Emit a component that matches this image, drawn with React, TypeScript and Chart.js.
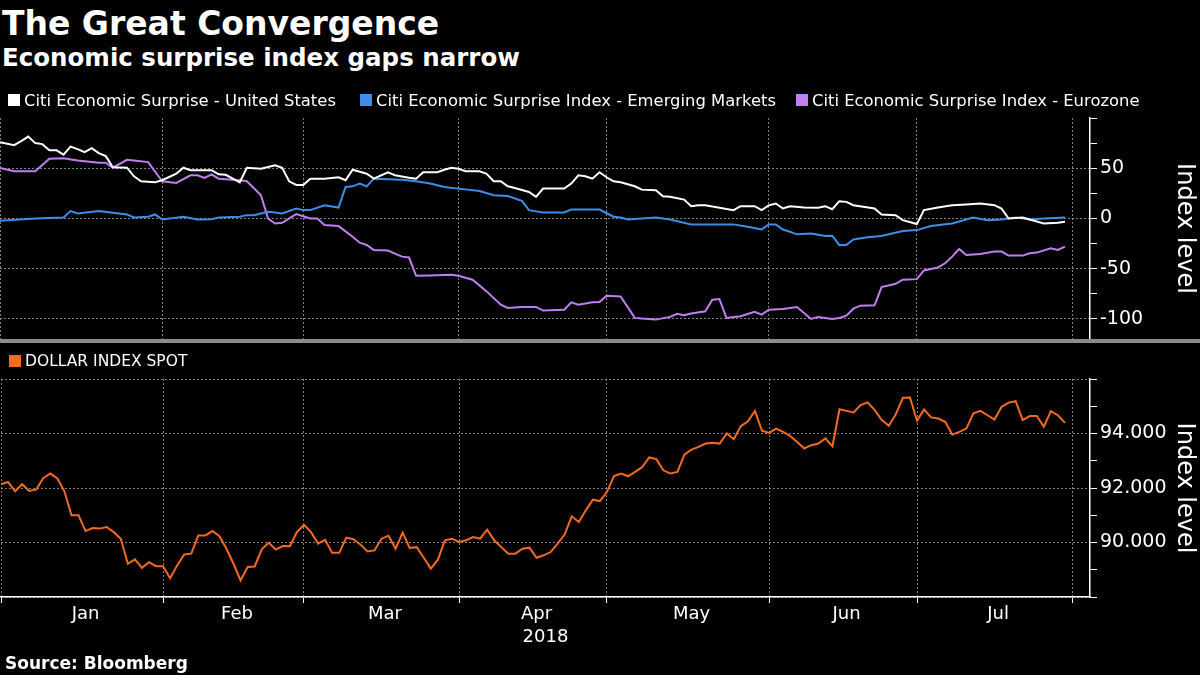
import React, { useEffect, useRef } from 'react';
import { Chart, registerables } from 'chart.js';

Chart.register(...registerables);

const FONT = "'DejaVu Sans', sans-serif";
const GRID = 'rgba(150,150,150,0.85)';

// x positions are business-day indexes counted from 1 Jan 2018
const monthStarts = [0, 23, 43, 65, 86, 109, 130, 152];
const monthNames = ['Jan', 'Feb', 'Mar', 'Apr', 'May', 'Jun', 'Jul'];
const monthMids = [12, 33.5, 54.5, 76, 98, 120, 141.5];
const xMin = 0;
const xMax = 154.55;
const yearLabel = '2018';

// Citi Economic Surprise - United States
const usDays = [0, 2, 3, 4, 5, 6, 7, 8, 9, 10, 11, 12, 13, 14, 15, 16, 18, 19, 20, 22, 23, 25, 26, 27, 29, 30, 31, 32, 34, 35, 37, 39, 40, 41, 42, 43, 44, 46, 48, 49, 50, 52, 53, 55, 56, 58, 59, 60, 62, 63, 64, 65, 66, 68, 69, 70, 71, 72, 73, 75, 76, 77, 80, 81, 82, 83, 84, 85, 86, 87, 88, 90, 91, 93, 94, 95, 97, 98, 99, 100, 104, 105, 107, 108, 109, 110, 111, 112, 114, 116, 117, 118, 119, 120, 121, 124, 125, 127, 128, 130, 131, 133, 135, 137, 139, 141, 142, 143, 145, 146, 148, 150, 151];
const usValues = [76, 73, 77, 81.5, 75, 74, 68, 68, 63.5, 71.5, 69, 66, 70, 65, 62, 51, 50.5, 42, 37, 36, 38, 44.5, 50.5, 48, 48, 48, 44, 43.5, 36, 50.5, 49.5, 53, 50.5, 37, 33.3, 33.3, 39.6, 39.6, 41, 38, 48.5, 44.5, 39.6, 46, 43, 40.6, 39.6, 46, 46, 48.5, 50.5, 49.5, 47, 47, 44.5, 37, 37, 32, 30.4, 26.4, 21.5, 29.7, 29.7, 34.7, 43, 42, 39.6, 46, 41, 37, 36, 32, 28.7, 28, 22, 21.5, 18.8, 12.2, 13.2, 13.2, 8.3, 12.2, 12.2, 8.3, 13, 14.9, 9.9, 12.2, 10.9, 10.6, 12.2, 9.2, 17.2, 16.5, 13.2, 9.9, 4, 3.3, -1.7, -5.6, 8.3, 10.9, 13.2, 13.9, 14.9, 13.2, 9.9, 0, 1, -1, -5, -4.3, -3.3];

// Citi Economic Surprise Index - Emerging Markets
const emDays = [0, 5, 9, 10, 11, 14, 18, 19, 21, 22, 23, 26, 28, 30, 31, 34, 35, 36, 38, 39, 40, 42, 43, 44, 46, 48, 49, 50, 51, 52, 53, 57, 59, 61, 63, 65, 68, 70, 72, 74, 75, 77, 80, 81, 85, 87, 88, 89, 93, 95, 98, 104, 106, 108, 109, 110, 111, 112, 113, 115, 117, 118, 119, 120, 121, 123, 125, 128, 130, 132, 135, 138, 140, 142, 144, 146, 148, 151];
const emValues = [-2.3, 0, 1, 7.3, 5, 7.3, 4, 1, 1.7, 4, -1, 1.7, -1, -0.7, 1, 1.7, 3.3, 3.3, 6.6, 6, 5, 9.9, 8.3, 8.3, 13.2, 10.9, 31.4, 32, 34.7, 32, 39.6, 38.6, 37, 34.7, 31.4, 29.7, 27.4, 23.1, 22.4, 17.5, 8.3, 6, 6, 8.9, 8.9, 1.7, 1, -1, 1, -1, -5.9, -5.9, -8.3, -10.9, -5.9, -5.9, -11, -13.2, -15.8, -14.9, -17.5, -17.2, -26.4, -26.4, -21, -18.8, -17.5, -12.5, -11.6, -7.6, -5, 1, -1.7, -1, 1, -1, 0, 1];

// Citi Economic Surprise Index - Eurozone
const ezDays = [0, 2, 5, 7, 9, 11, 14, 15, 16, 18, 19, 21, 23, 25, 27, 28, 29, 30, 31, 34, 35, 37, 38, 39, 40, 42, 44, 45, 46, 48, 50, 51, 52, 53, 55, 57, 58, 59, 61, 64, 65, 67, 69, 71, 72, 74, 76, 77, 80, 81, 82, 84, 85, 86, 88, 90, 91, 93, 95, 96, 97, 98, 100, 101, 102, 103, 105, 107, 108, 109, 111, 113, 115, 116, 118, 119, 120, 121, 122, 124, 125, 127, 128, 130, 131, 133, 134, 135, 136, 137, 139, 141, 142, 143, 145, 146, 147, 149, 150, 151];
const ezValues = [50.2, 46.9, 46.9, 59.4, 60, 57.8, 55.4, 55.4, 50.5, 58.4, 57.8, 56.1, 37, 35.3, 42.9, 42.9, 40.3, 43.9, 39.6, 38, 37, 23.1, 0, -5, -4.3, 4.3, 0, 0, -6.6, -7.6, -18.2, -24.1, -26.4, -31.4, -32, -38, -38.9, -57.1, -56.8, -56.1, -57.1, -61, -72.6, -85.8, -89.1, -88.1, -88.1, -91.7, -90.8, -83.5, -85.8, -83.5, -83.2, -76.9, -77.6, -99, -99.7, -100.7, -98, -95, -96.4, -94.7, -92.4, -80.9, -80.2, -99, -97.4, -93, -95.7, -90.8, -90.1, -88.1, -100, -98, -100, -99, -96.7, -89.8, -86.8, -86.5, -68.3, -65, -61, -60.4, -51.8, -48.8, -44.6, -38, -30.4, -36.3, -35.3, -33, -33, -37, -37, -34.7, -34, -29.7, -31.4, -28.1];

// DOLLAR INDEX SPOT, one value per business day (index 0..151)
const dollarValues = [
  92.14, 92.22, 91.88, 92.14, 91.89, 91.94, 92.37, 92.53, 92.35, 91.88,
  91.0, 91.0, 90.42, 90.53, 90.51, 90.57, 90.38, 90.14, 89.22, 89.38,
  89.07, 89.28, 89.13, 89.13, 88.69, 89.16, 89.56, 89.59, 90.26, 90.26,
  90.42, 90.23, 89.77, 89.22, 88.61, 89.1, 89.12, 89.75, 89.99, 89.74,
  89.87, 89.86, 90.38, 90.65, 90.38, 89.96, 90.1, 89.62, 89.62, 90.18,
  90.12, 89.93, 89.67, 89.71, 90.14, 90.25, 89.77, 90.36, 89.8, 89.83,
  89.44, 89.04, 89.37, 90.08, 90.14, 90.02, 90.08, 90.2, 90.14, 90.47,
  90.08, 89.83, 89.59, 89.59, 89.77, 89.81, 89.44, 89.53, 89.65, 89.96,
  90.3, 90.96, 90.75, 91.18, 91.57, 91.52, 91.86, 92.44, 92.53, 92.43,
  92.59, 92.77, 93.12, 93.06, 92.65, 92.53, 92.59, 93.23, 93.41, 93.51,
  93.63, 93.66, 93.63, 94.0, 93.79, 94.27, 94.45, 94.83, 94.1, 94.02,
  94.18, 94.06, 93.91, 93.69, 93.45, 93.57, 93.63, 93.82, 93.53, 94.89,
  94.83, 94.77, 95.04, 95.14, 94.86, 94.49, 94.28, 94.71, 95.31, 95.32,
  94.47, 94.88, 94.59, 94.55, 94.43, 93.96, 94.06, 94.18, 94.74, 94.83,
  94.67, 94.51, 94.98, 95.13, 95.19, 94.49, 94.64, 94.64, 94.25, 94.82,
  94.67, 94.39,
];

const topYTicks = [-100, -75, -50, -25, 0, 25, 50, 75, 100];
const topYLabelled = [-100, -50, 0, 50];
const topYMin = -120;
const topYMax = 100;
const botYTicks = [88, 89, 90, 91, 92, 93, 94, 95, 96];
const botYGrid = [88, 90, 92, 94, 96];
const botYLabelled = [90, 92, 94];
const botYMin = 88;
const botYMax = 96;

const seriesNames = [
  'Citi Economic Surprise - United States',
  'Citi Economic Surprise Index - Emerging Markets',
  'Citi Economic Surprise Index - Eurozone',
];
const dollarName = 'DOLLAR INDEX SPOT';
const colors = { us: '#ffffff', em: '#3b8fe8', ez: '#c07ff0', usd: '#f46a1f' };

const pairs = (xs: number[], ys: number[]) => xs.map((x, i) => ({ x, y: ys[i] }));
const xTickValues = [...monthStarts, ...monthMids].sort((a, b) => a - b);

function xScale(showLabels: boolean): any {
  return {
    type: 'linear',
    min: xMin,
    max: xMax,
    afterBuildTicks: (s: any) => {
      s.ticks = xTickValues.map((v) => ({ value: v }));
    },
    afterFit: (s: any) => {
      s.height = showLabels ? 78 : 0;
    },
    grid: {
      color: (c: any) => (c.tick && monthStarts.includes(c.tick.value) ? GRID : 'transparent'),
      tickColor: (c: any) => (c.tick && monthStarts.includes(c.tick.value) ? '#ffffff' : 'transparent'),
      lineWidth: 1,
      drawTicks: showLabels,
      tickLength: 6,
    },
    border: { display: showLabels, color: '#ffffff', width: 1.5, dash: [2, 2] },
    ticks: {
      display: showLabels,
      autoSkip: false,
      maxRotation: 0,
      color: '#ffffff',
      padding: 1,
      font: { family: FONT, size: 18 },
      callback: (v: number) => {
        const i = monthMids.indexOf(v);
        return i >= 0 ? monthNames[i] : '';
      },
    },
    title: {
      display: showLabels,
      text: yearLabel,
      color: '#ffffff',
      font: { family: FONT, size: 18 },
      padding: { top: 0, bottom: 27 },
    },
  };
}

function yScale(min: number, max: number, ticks: number[], grid: number[], labelled: number[], fmt: (v: number) => string): any {
  return {
    position: 'right',
    min,
    max,
    afterBuildTicks: (s: any) => {
      s.ticks = ticks.map((v) => ({ value: v }));
    },
    afterFit: (s: any) => {
      s.width = 110;
    },
    grid: {
      color: (c: any) => (c.tick && grid.includes(c.tick.value) && c.tick.value !== 100 ? GRID : 'transparent'),
      tickColor: '#ffffff',
      tickLength: 7,
      lineWidth: 1,
    },
    border: { display: true, color: '#ffffff', width: 1.5, dash: [2, 2] },
    ticks: {
      autoSkip: false,
      color: '#ffffff',
      padding: 3,
      font: { family: FONT, size: 19 },
      callback: (v: number) => (labelled.includes(v) ? fmt(v) : ''),
    },
    title: {
      display: true,
      text: 'Index level',
      color: '#ffffff',
      font: { family: FONT, size: 24 },
      padding: { top: 1, bottom: 0 },
    },
  };
}

const lineDs = (label: string, data: any[], color: string) => ({
  label,
  data,
  borderColor: color,
  backgroundColor: color,
  borderWidth: 2,
  pointRadius: 0,
  tension: 0,
  fill: false,
});

const baseOptions = (padTop: number, padBottom: number, scales: any): any => ({
  responsive: false,
  animation: false,
  devicePixelRatio: 1,
  parsing: true,
  layout: { padding: { top: padTop, bottom: padBottom, left: 0, right: 0 } },
  plugins: { legend: { display: false }, tooltip: { enabled: false }, title: { display: false } },
  scales,
});

export default function App() {
  const topRef = useRef<HTMLCanvasElement>(null);
  const botRef = useRef<HTMLCanvasElement>(null);

  useEffect(() => {
    const top = new Chart(topRef.current as HTMLCanvasElement, {
      type: 'line',
      data: {
        datasets: [
          lineDs(seriesNames[0], pairs(usDays, usValues), colors.us),
          lineDs(seriesNames[1], pairs(emDays, emValues), colors.em),
          lineDs(seriesNames[2], pairs(ezDays, ezValues), colors.ez),
        ],
      },
      options: baseOptions(28, 21, {
        x: xScale(false),
        y: yScale(topYMin, topYMax, topYTicks, topYLabelled, topYLabelled, (v) => String(v)),
      }),
    } as any);
    const bot = new Chart(botRef.current as HTMLCanvasElement, {
      type: 'line',
      data: {
        datasets: [lineDs(dollarName, dollarValues.map((y, x) => ({ x, y })), colors.usd)],
      },
      options: baseOptions(34, 0, {
        x: xScale(true),
        y: yScale(botYMin, botYMax, botYTicks, botYGrid, botYLabelled, (v) => v.toFixed(3)),
      }),
    } as any);
    return () => {
      top.destroy();
      bot.destroy();
    };
  }, []);

  const abs = (left: number, top: number, extra: any = {}): any => ({
    position: 'absolute',
    left,
    top,
    whiteSpace: 'nowrap',
    lineHeight: 1,
    ...extra,
  });
  const square = (left: number, top: number, color: string) => (
    <div style={abs(left, top, { width: 12, height: 12, background: color })} />
  );
  const legendX = [8, 360, 796];
  const legendColors = [colors.us, colors.em, colors.ez];

  return (
    <div
      style={{
        position: 'absolute',
        left: 0,
        top: 0,
        width: 1200,
        height: 675,
        background: '#000000',
        overflow: 'hidden',
        fontFamily: FONT,
        color: '#ffffff',
      }}
    >
      <canvas ref={topRef} width={1200} height={270} style={{ position: 'absolute', left: 0, top: 90 }} />
      <canvas ref={botRef} width={1200} height={330} style={{ position: 'absolute', left: 0, top: 345 }} />
      <div style={abs(2, 7, { fontSize: 33, fontWeight: 'bold' })}>The Great Convergence</div>
      <div style={abs(2, 46, { fontSize: 24.5, fontWeight: 'bold' })}>Economic surprise index gaps narrow</div>
      {seriesNames.map((name, i) => (
        <React.Fragment key={name}>
          {square(legendX[i], 94, legendColors[i])}
          <div style={abs(legendX[i] + 16, 93, { fontSize: 16.4 })}>{name}</div>
        </React.Fragment>
      ))}
      <div style={abs(0, 339, { width: 1200, height: 4, background: '#8a8a8a' })} />
      {square(9, 355, colors.usd)}
      <div style={abs(25, 354, { fontSize: 15.5 })}>{dollarName}</div>
      <div style={abs(5, 655, { fontSize: 17, fontWeight: 'bold' })}>Source: Bloomberg</div>
    </div>
  );
}
